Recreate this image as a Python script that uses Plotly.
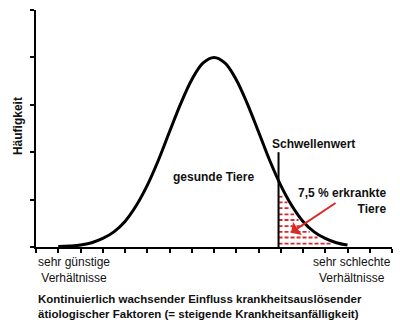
import plotly.graph_objects as go

# Curve values (x along factor axis 0..16, frequency 0..5)
curve_x = [1, 1.5, 2, 2.5, 3, 3.5, 4, 4.5, 5, 5.5, 6, 6.5, 7, 7.5, 8,
           8.5, 9, 9.5, 10, 10.5, 11, 11.5, 12, 12.5, 13, 13.5, 14]
curve_y = [0.01, 0.02, 0.04, 0.09, 0.18, 0.32, 0.54, 0.87, 1.30, 1.83, 2.43, 3.02, 3.53, 3.88, 4.00,
           3.88, 3.53, 3.02, 2.43, 1.83, 1.30, 0.87, 0.54, 0.32, 0.18, 0.09, 0.04]

threshold_x = 10.9
threshold_top = 2.0

hatch_y = [1.06, 0.94, 0.82, 0.69, 0.57, 0.44, 0.32, 0.20, 0.07]
hatch_end = [11.15, 11.3, 11.45, 11.6, 11.8, 12.0, 12.3, 12.65, 13.25]

FONT = "Arial, Liberation Sans, sans-serif"
RED = "#d92a2a"

fig = go.Figure()

for yv, xe in zip(hatch_y, hatch_end):
    fig.add_trace(go.Scatter(x=[threshold_x, xe], y=[yv, yv], mode="lines",
                             line=dict(color=RED, width=1.8, dash="4px,2px"),
                             hoverinfo="skip", showlegend=False))

fig.add_trace(go.Scatter(x=curve_x, y=curve_y, mode="lines", line_shape="spline",
                         line=dict(color="black", width=3), showlegend=False))

fig.add_trace(go.Scatter(x=[threshold_x, threshold_x], y=[0, threshold_top], mode="lines",
                         line=dict(color="black", width=2), showlegend=False))

ann = []
def txt(x, y, t, bold=True, xanchor="center", size=12, xref="x", yref="y", angle=0, align="center"):
    ann.append(dict(x=x, y=y, xref=xref, yref=yref, text=(f"<b>{t}</b>" if bold else t),
                    showarrow=False, xanchor=xanchor, yanchor="middle", align=align,
                    textangle=angle, font=dict(family=FONT, size=size, color="#111")))

txt(12.45, 2.17, "Schwellenwert")
txt(7.96, 1.48, "gesunde Tiere")
txt(15.82, 0.98, "7,5 % erkrankte<br>Tiere", xanchor="right", align="right")
txt(0.107, -0.095, "sehr günstige<br>Verhältnisse", bold=False, xref="paper", yref="paper")
txt(0.888, -0.095, "sehr schlechte<br>Verhältnisse", bold=False, xref="paper", yref="paper")
txt(0, -0.249, "Kontinuierlich wachsender Einfluss krankheitsauslösender<br>ätiologischer Faktoren (= steigende Krankheitsanfälligkeit)",
    xanchor="left", align="left", xref="paper", yref="paper", size=11.5)
txt(-0.0506, 0.51, "Häufigkeit", xref="paper", yref="paper", angle=-90)

ann.append(dict(x=11.46, y=0.30, ax=13.53, ay=0.95, xref="x", yref="y", axref="x", ayref="y",
                text="", showarrow=True, arrowhead=1, arrowsize=1.3, arrowwidth=2, arrowcolor=RED))

fig.update_layout(
    width=400, height=331,
    margin=dict(l=36, r=8, t=10, b=84),
    paper_bgcolor="white", plot_bgcolor="white",
    annotations=ann,
    xaxis=dict(range=[0, 16], showgrid=False, zeroline=False, showline=True, linecolor="black",
               linewidth=2, ticks="outside", ticklen=4, tickwidth=1.5, tickcolor="black",
               tickvals=list(range(0, 17)), showticklabels=False, fixedrange=True),
    yaxis=dict(range=[0, 5], showgrid=False, zeroline=False, showline=True, linecolor="black",
               linewidth=2, ticks="outside", ticklen=4, tickwidth=1.5, tickcolor="black",
               tickvals=list(range(0, 6)), showticklabels=False, fixedrange=True),
)

fig.write_html("out.html", config={"displayModeBar": False})
